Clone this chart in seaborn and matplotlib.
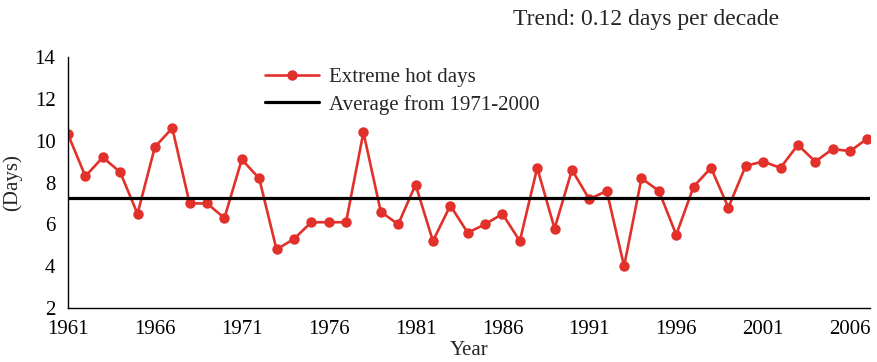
import numpy as np
import pandas as pd
import matplotlib
matplotlib.use("Agg")
import matplotlib.pyplot as plt
import seaborn as sns

years = list(range(1961, 2008))
hot_days = [10.3, 8.3, 9.2, 8.5, 6.5, 9.7, 10.6, 7.0, 7.0, 6.3,
            9.1, 8.2, 4.8, 5.3, 6.1, 6.1, 6.1, 10.4, 6.6, 6.0,
            7.9, 5.2, 6.9, 5.6, 6.0, 6.5, 5.2, 8.7, 5.8, 8.6,
            7.2, 7.6, 4.0, 8.2, 7.6, 5.5, 7.8, 8.7, 6.8, 8.8,
            9.0, 8.7, 9.8, 9.0, 9.6, 9.5, 10.1]
average_1971_2000 = 7.27
x_ticks = [1961, 1966, 1971, 1976, 1981, 1986, 1991, 1996, 2001, 2006]
y_ticks = [2, 4, 6, 8, 10, 12, 14]

df = pd.DataFrame({"Year": years, "Days": hot_days})

sns.set_style("white")
plt.rcParams["font.family"] = ["Liberation Serif", "DejaVu Serif"]

fig = plt.figure(figsize=(8.77, 3.62), dpi=100)
ax = fig.add_axes([68 / 877, 1 - 308 / 362, (870 - 68) / 877, (308 - 57) / 362])

red = "#e1312a"
sns.lineplot(data=df, x="Year", y="Days", ax=ax, color=red, linewidth=1.9,
             marker="o", markersize=7.5, markeredgewidth=0,
             label="Extreme hot days")
ax.axhline(average_1971_2000, color="black", linewidth=2.3,
           label="Average from 1971-2000")

ax.set_xlim(1961, 2007.15)
ax.set_ylim(2, 14)
ax.set_xticks(x_ticks)
ax.set_yticks(y_ticks)
ax.tick_params(direction="in", length=4, width=0.8, labelsize=15, colors="black")
ax.tick_params(axis="x", pad=9)
ax.tick_params(axis="y", pad=9)
for side in ["top", "right"]:
    ax.spines[side].set_visible(False)
for side in ["left", "bottom"]:
    ax.spines[side].set_color("black")
    ax.spines[side].set_linewidth(1.0)

ax.set_xlabel("Year", fontsize=15, labelpad=1)
ax.set_ylabel("(Days)", fontsize=15, labelpad=9)

leg = ax.legend(loc="upper left", bbox_to_anchor=(0.235, 0.99), frameon=False,
                fontsize=15, handlelength=2.6, handletextpad=0.5, labelspacing=0.35,
                borderaxespad=0)

fig.text(646 / 877, 1 - 19 / 362, "Trend: 0.12 days per decade", fontsize=17,
         ha="center", va="center")

fig.savefig("out.png", dpi=100)
